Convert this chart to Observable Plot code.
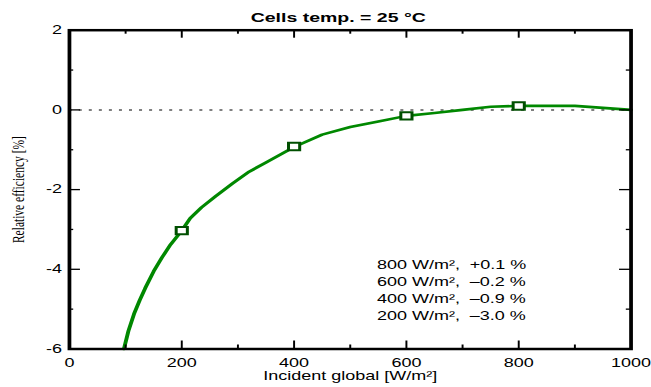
<!DOCTYPE html>
<html><head><meta charset="utf-8">
<script src="https://cdn.jsdelivr.net/npm/d3@7"></script>
<script src="https://cdn.jsdelivr.net/npm/@observablehq/plot@0.6"></script>
<style>
html,body{margin:0;padding:0;background:#fff;}
#chart{width:651px;height:387px;overflow:hidden;}
#chart svg{transform:scaleX(1.5);transform-origin:0 0;max-width:none !important;}
</style></head><body><div id="chart"></div>
<script>
// Curve: relative efficiency vs incident irradiance
const irradiance = [97,105,115,125,135,150,165,180,200,215,235,260,290,320,350,400,450,500,550,600,650,700,750,800,850,900,950,1000];
const efficiency = [-6.0,-5.55,-5.12,-4.78,-4.47,-4.05,-3.70,-3.38,-3.03,-2.72,-2.45,-2.17,-1.85,-1.55,-1.32,-0.93,-0.62,-0.43,-0.29,-0.15,-0.08,0.00,0.08,0.10,0.10,0.10,0.05,0.0];
// Marked points and legend values
const pointIrr = [200,400,600,800];
const pointEff = [-3.03,-0.92,-0.15,0.10];
const legendEff = [-3.0,-0.9,-0.2,0.1];
// Ticks
const xMajor = [200,400,600,800];
const xMinor = [100,300,500,700,900];
const yMajor = [0,-2,-4];
const yMinor = [1,-1,-3,-5];
const xTickLabels = [0,200,400,600,800,1000];
const yTickLabels = [2,0,-2,-4,-6];
// Texts
const title = "Cells temp. = 25 °C";
const xLabel = "Incident global [W/m²]";
const yLabel = "Relative efficiency [%]";

const S = 1.5;
const W = 651 / S, H = 387;
const mL = 45.8, mR = 13.8, mT = 29.7, mB = 38.5;
const fw = W - mL - mR, fh = H - mT - mB;

const curve = irradiance.map((x, i) => ({x, y: efficiency[i]}));
const points = pointIrr.map((x, i) => ({x, y: pointEff[i]}));
const legendText = pointIrr.map((g, i) => {
  const v = legendEff[i];
  const s = (v > 0 ? "+" : "\u2013") + Math.abs(v).toFixed(1);
  return `${g} W/m\u00b2,\u00a0 ${s} %`;
}).reverse().join("\n");

const tk = {stroke: "#000", strokeWidth: 1.3};
const chart = Plot.plot({
  width: W, height: H,
  marginLeft: mL, marginRight: mR, marginTop: mT, marginBottom: mB,
  style: {fontFamily: "'Liberation Sans', Arial, sans-serif", fontSize: "12px", color: "#000", background: "#fff"},
  x: {domain: [0, 1000]},
  y: {domain: [-6, 2]},
  marks: [
    Plot.ruleY([0], {stroke: "#555", strokeWidth: 1.5, strokeDasharray: "2,4.7"}),
    Plot.line(curve, {x: "x", y: "y", stroke: "#008800", strokeWidth: 2.6}),
    Plot.dot(points, {x: "x", y: "y", symbol: "square", r: 4.2, fill: "#fff", stroke: "#004f00", strokeWidth: 2}),
    // inward ticks, all four sides
    Plot.tickX(xMajor, {x: d => d, insetTop: fh - 8, ...tk}),
    Plot.tickX(xMinor, {x: d => d, insetTop: fh - 4, ...tk}),
    Plot.tickX(xMajor, {x: d => d, insetBottom: fh - 8, ...tk}),
    Plot.tickX(xMinor, {x: d => d, insetBottom: fh - 4, ...tk}),
    Plot.tickY(yMajor, {y: d => d, insetRight: fw - 7.5, ...tk}),
    Plot.tickY(yMinor, {y: d => d, insetRight: fw - 3, ...tk}),
    Plot.tickY(yMajor, {y: d => d, insetLeft: fw - 7.5, ...tk}),
    Plot.tickY(yMinor, {y: d => d, insetLeft: fw - 3, ...tk}),
    Plot.axisX(xTickLabels, {anchor: "bottom", tickSize: 0, tickPadding: 9.5, label: null, tickFormat: d => String(d), fontSize: 12}),
    Plot.axisY(yTickLabels, {anchor: "left", tickSize: 0, tickPadding: 5, label: null, tickFormat: d => String(d), fontSize: 12}),
    Plot.frame({stroke: "#000", strokeWidth: 2.5}),
    Plot.text([title], {text: d => d, frameAnchor: "top", dx: -8, dy: -8.2, lineAnchor: "bottom", fontWeight: "bold", fontSize: 13}),
    Plot.text([xLabel], {text: d => d, frameAnchor: "bottom", dx: 0, dy: 31, lineAnchor: "bottom", fontSize: 12}),
    Plot.text([yLabel], {text: d => d, frameAnchor: "left", dx: -34.1, rotate: -90, lineAnchor: "middle", textAnchor: "middle", fontSize: 11.5, fontFamily: "'Liberation Serif', 'Times New Roman', serif"}),
    Plot.text([legendText], {text: d => d, frameAnchor: "bottom-left", dx: 205, dy: -29.5, textAnchor: "start", lineAnchor: "bottom", lineHeight: 1.4, fontSize: 12})
  ]
});
document.getElementById("chart").appendChild(chart);
</script>
</body></html>
